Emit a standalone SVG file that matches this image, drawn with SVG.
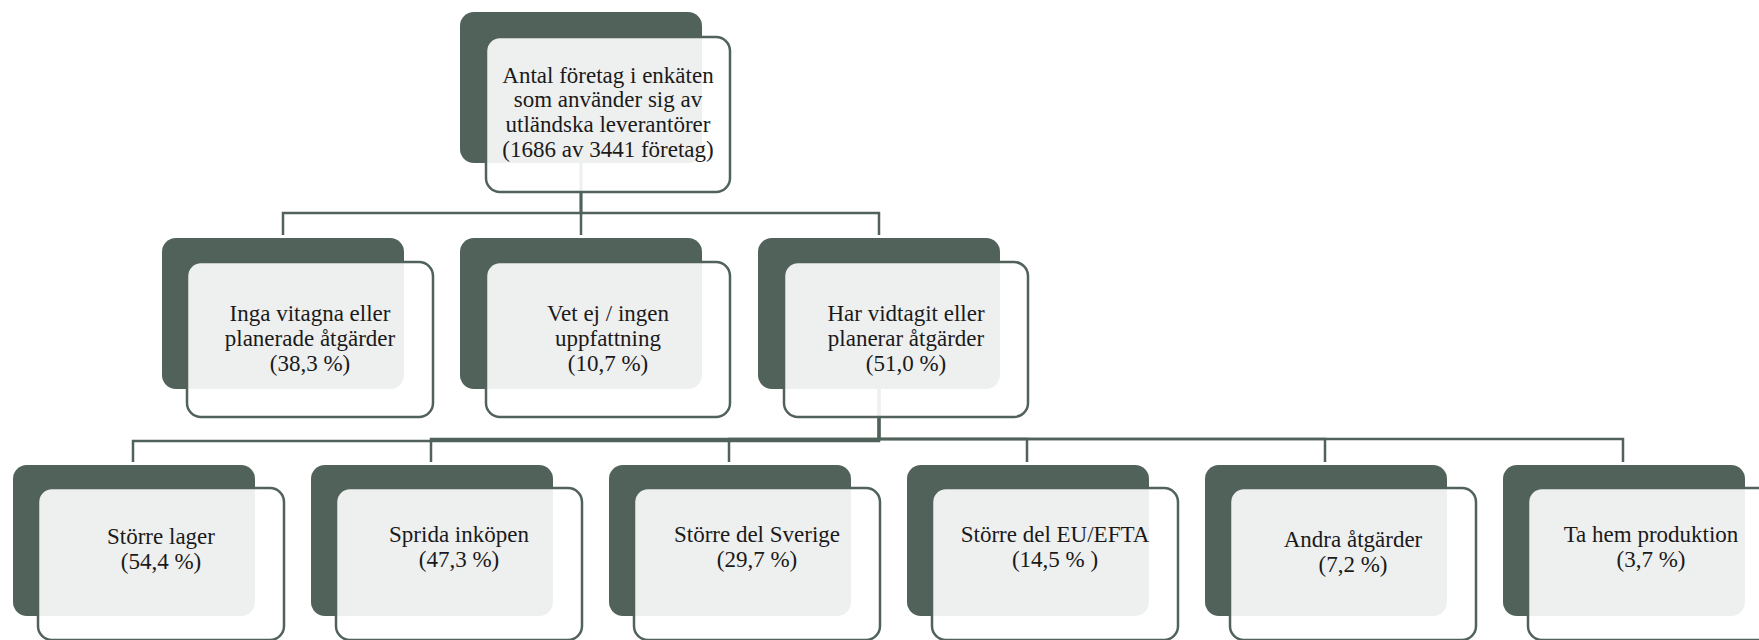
<svg xmlns="http://www.w3.org/2000/svg" width="1759" height="640" viewBox="0 0 1759 640">
<style>
.bk{fill:#50625A;}
.fr{fill:#ffffff;fill-opacity:0.9;stroke:#50625A;stroke-width:2.5;}
.cn{fill:none;stroke:#50625A;stroke-width:2.5;}
.t{font-family:"Liberation Serif","Times New Roman",serif;font-size:23px;fill:#1a1a1a;text-anchor:middle;}
</style>
<rect width="1759" height="640" fill="#ffffff"/>
<g id="connectors">
<path class="cn" d="M581,163 V213 H283 V235"/>
<path class="cn" d="M581,163 V235"/>
<path class="cn" d="M581,163 V213 H879 V235"/>
<path class="cn" d="M879,389 V441 H133 V462"/>
<path class="cn" d="M879,389 V439 H431 V462"/>
<path class="cn" d="M879,389 V439 H729 V462"/>
<path class="cn" d="M879,389 V439 H1027 V462"/>
<path class="cn" d="M879,389 V439 H1325 V462"/>
<path class="cn" d="M879,389 V439 H1623 V462"/>
</g>
<g id="n0">
<rect class="bk" x="460" y="12" width="242" height="151" rx="14"/>
<rect class="fr" x="486" y="37" width="244" height="155" rx="14"/>
<text class="t" x="608" y="83">Antal företag i enkäten</text>
<text class="t" x="608" y="107">som använder sig av</text>
<text class="t" x="608" y="132">utländska leverantörer</text>
<text class="t" x="608" y="157">(1686 av 3441 företag)</text>
</g>
<g id="n1">
<rect class="bk" x="162" y="238" width="242" height="151" rx="14"/>
<rect class="fr" x="187" y="262" width="246" height="155" rx="14"/>
<text class="t" x="310" y="321">Inga vitagna eller</text>
<text class="t" x="310" y="346">planerade åtgärder</text>
<text class="t" x="310" y="371">(38,3 %)</text>
</g>
<g id="n2">
<rect class="bk" x="460" y="238" width="242" height="151" rx="14"/>
<rect class="fr" x="486" y="262" width="244" height="155" rx="14"/>
<text class="t" x="608" y="321">Vet ej / ingen</text>
<text class="t" x="608" y="346">uppfattning</text>
<text class="t" x="608" y="371">(10,7 %)</text>
</g>
<g id="n3">
<rect class="bk" x="758" y="238" width="242" height="151" rx="14"/>
<rect class="fr" x="784" y="262" width="244" height="155" rx="14"/>
<text class="t" x="906" y="321">Har vidtagit eller</text>
<text class="t" x="906" y="346">planerar åtgärder</text>
<text class="t" x="906" y="371">(51,0 %)</text>
</g>
<g id="n4">
<rect class="bk" x="13" y="465" width="242" height="151" rx="14"/>
<rect class="fr" x="38" y="488" width="246" height="152" rx="14"/>
<text class="t" x="161" y="544">Större lager</text>
<text class="t" x="161" y="569">(54,4 %)</text>
</g>
<g id="n5">
<rect class="bk" x="311" y="465" width="242" height="151" rx="14"/>
<rect class="fr" x="336" y="488" width="246" height="152" rx="14"/>
<text class="t" x="459" y="542">Sprida inköpen</text>
<text class="t" x="459" y="567">(47,3 %)</text>
</g>
<g id="n6">
<rect class="bk" x="609" y="465" width="242" height="151" rx="14"/>
<rect class="fr" x="634" y="488" width="246" height="152" rx="14"/>
<text class="t" x="757" y="542">Större del Sverige</text>
<text class="t" x="757" y="567">(29,7 %)</text>
</g>
<g id="n7">
<rect class="bk" x="907" y="465" width="242" height="151" rx="14"/>
<rect class="fr" x="932" y="488" width="246" height="152" rx="14"/>
<text class="t" x="1055" y="542">Större del EU/EFTA</text>
<text class="t" x="1055" y="567">(14,5 % )</text>
</g>
<g id="n8">
<rect class="bk" x="1205" y="465" width="242" height="151" rx="14"/>
<rect class="fr" x="1230" y="488" width="246" height="152" rx="14"/>
<text class="t" x="1353" y="547">Andra åtgärder</text>
<text class="t" x="1353" y="572">(7,2 %)</text>
</g>
<g id="n9">
<rect class="bk" x="1503" y="465" width="242" height="151" rx="14"/>
<rect class="fr" x="1528" y="488" width="246" height="152" rx="14"/>
<text class="t" x="1651" y="542">Ta hem produktion</text>
<text class="t" x="1651" y="567">(3,7 %)</text>
</g>
</svg>
